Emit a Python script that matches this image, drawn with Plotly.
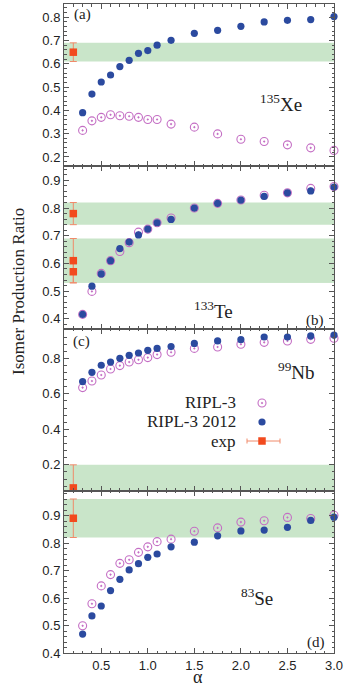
import plotly.graph_objects as go
from plotly.subplots import make_subplots

# ---------------- data ----------------
alpha = [0.3, 0.4, 0.5, 0.6, 0.7, 0.8, 0.9, 1.0, 1.1, 1.25, 1.5, 1.75, 2.0, 2.25, 2.5, 2.75, 3.0]

xe_ripl3 = [0.314, 0.355, 0.370, 0.381, 0.377, 0.375, 0.370, 0.361, 0.361, 0.341, 0.328, 0.299, 0.276, 0.266, 0.252, 0.239, 0.228]
xe_2012 = [0.390, 0.470, 0.522, 0.552, 0.588, 0.615, 0.645, 0.657, 0.680, 0.701, 0.731, 0.744, 0.761, 0.780, 0.787, 0.790, 0.803]

te_ripl3 = [0.416, 0.499, 0.564, 0.610, 0.643, 0.675, 0.713, 0.724, 0.747, 0.764, 0.800, 0.817, 0.829, 0.846, 0.855, 0.871, 0.878]
te_2012 = [0.416, 0.518, 0.562, 0.610, 0.654, 0.677, 0.703, 0.724, 0.747, 0.759, 0.800, 0.817, 0.829, 0.842, 0.855, 0.862, 0.876]

nb_ripl3 = [0.635, 0.672, 0.706, 0.740, 0.759, 0.779, 0.792, 0.804, 0.821, 0.834, 0.856, 0.864, 0.879, 0.890, 0.898, 0.907, 0.913]
nb_2012 = [0.669, 0.721, 0.761, 0.779, 0.800, 0.817, 0.830, 0.845, 0.856, 0.866, 0.884, 0.898, 0.905, 0.920, 0.920, 0.926, 0.931]

se_ripl3 = [0.499, 0.579, 0.644, 0.685, 0.726, 0.739, 0.766, 0.786, 0.805, 0.814, 0.843, 0.855, 0.876, 0.881, 0.893, 0.889, 0.901]
se_2012 = [0.469, 0.535, 0.571, 0.627, 0.668, 0.702, 0.725, 0.748, 0.760, 0.786, 0.803, 0.826, 0.844, 0.847, 0.857, 0.882, 0.894]

exp_alpha = 0.2
xe_exp, xe_err = [0.65], [0.04]
te_exp, te_err = [0.78, 0.61, 0.57], [0.04, 0.08, 0.04]
nb_exp, nb_err = [0.07], [0.13]
se_exp, se_err = [0.89], [0.07]

nuclides = ["<sup>135</sup>Xe", "<sup>133</sup>Te", "<sup>99</sup>Nb", "<sup>83</sup>Se"]
panel_tags = ["(a)", "(b)", "(c)", "(d)"]
series_names = ["RIPL-3", "RIPL-3 2012", "exp"]

y_ranges = [[0.16, 0.857], [0.365, 0.951], [0.054, 0.968], [0.4, 0.99]]
y_dticks = [0.1, 0.1, 0.2, 0.1]
y_minor = [0.02, 0.02, 0.04, 0.02]

# ---------------- style ----------------
BLUE = "#2b4a9f"
PINK = "#c46ec4"
RED = "#f24a1e"
ERR = "#f08a6a"
GREEN = "#c9e5c9"
AXC = "#555555"
TXT = "#222222"

W, H = 345, 689
ML, MR, MT, MB = 64, 11, 4, 36
PW, PH = W - ML - MR, H - MT - MB


def px(x):
    return (x - ML) / PW


def py(y):
    return 1 - (y - MT) / PH


fig = make_subplots(rows=4, cols=1, shared_xaxes=True, vertical_spacing=0)

panels = [
    (xe_ripl3, xe_2012, xe_exp, xe_err),
    (te_ripl3, te_2012, te_exp, te_err),
    (nb_ripl3, nb_2012, nb_exp, nb_err),
    (se_ripl3, se_2012, se_exp, se_err),
]

for i, (r3, r12, ex, er) in enumerate(panels):
    row = i + 1
    show = (i == 2)
    yref = "y" if row == 1 else f"y{row}"
    # green bands = exp +/- error
    for v, e in zip(ex, er):
        fig.add_shape(type="rect", xref=f"x{'' if row == 1 else row} domain", yref=yref,
                      x0=0, x1=1, y0=v - e, y1=v + e, fillcolor=GREEN,
                      line=dict(width=0), layer="below")
    fig.add_trace(go.Scatter(x=alpha, y=r3, mode="markers", name=series_names[0],
                             showlegend=show, legendrank=1, cliponaxis=False,
                             marker=dict(symbol="circle-open-dot", size=8, color=PINK,
                                         line=dict(width=1.1, color=PINK))),
                  row=row, col=1)
    fig.add_trace(go.Scatter(x=alpha, y=r12, mode="markers", name=series_names[1],
                             showlegend=show, legendrank=2, cliponaxis=False,
                             marker=dict(symbol="circle", size=7.2, color=BLUE)),
                  row=row, col=1)
    fig.add_trace(go.Scatter(x=[exp_alpha] * len(ex), y=ex, mode="markers", name=series_names[2],
                             showlegend=show, legendrank=3, cliponaxis=False,
                             error_y=dict(type="data", array=er, color=ERR, thickness=1, width=3.5),
                             marker=dict(symbol="square", size=7.5, color=RED)),
                  row=row, col=1)

    fig.update_yaxes(row=row, col=1, range=y_ranges[i], dtick=y_dticks[i], tick0=0,
                     ticks="inside", ticklen=5, tickcolor=AXC, mirror="allticks",
                     showline=True, linecolor=AXC, linewidth=1, showgrid=False,
                     zeroline=False, tickformat=".1f",
                     tickfont=dict(family="Liberation Sans", size=13, color=TXT),
                     minor=dict(dtick=y_minor[i], tick0=0, ticks="inside", ticklen=2.5,
                                tickcolor=AXC, showgrid=False))
    fig.update_xaxes(row=row, col=1, range=[0.1, 3.0], dtick=0.5, tick0=0,
                     ticks="inside", ticklen=5, tickcolor=AXC, mirror="allticks",
                     showline=True, linecolor=AXC, linewidth=1, showgrid=False,
                     zeroline=False, tickformat=".1f", showticklabels=(row == 4),
                     tickfont=dict(family="Liberation Sans", size=13, color=TXT),
                     minor=dict(dtick=0.1, tick0=0, ticks="inside", ticklen=2.5,
                                tickcolor=AXC, showgrid=False))

serif = "Liberation Serif"
annos = []
# nuclide labels
for txt, (x, y) in zip(nuclides, [(281, 103), (213, 310), (296, 371), (257, 597)]):
    annos.append(dict(text=txt, x=px(x), y=py(y), xref="paper", yref="paper",
                      showarrow=False, xanchor="center", yanchor="middle",
                      font=dict(family=serif, size=19, color=TXT)))
# panel tags
for txt, (x, y) in zip(panel_tags, [(82, 15), (315, 320), (81, 341), (316, 642)]):
    annos.append(dict(text=txt, x=px(x), y=py(y), xref="paper", yref="paper",
                      showarrow=False, xanchor="center", yanchor="middle",
                      font=dict(family=serif, size=15, color=TXT)))
# legend texts (right aligned, symbol drawn by the legend to the right)
for txt, y in zip(series_names, [402.7, 421.7, 441.0]):
    annos.append(dict(text=txt, x=px(238), y=py(y), xref="paper", yref="paper",
                      showarrow=False, xanchor="right", yanchor="middle",
                      font=dict(family=serif, size=17, color=TXT)))
# axis titles
annos.append(dict(text="Isomer Production Ratio", x=px(18), y=py(292), xref="paper", yref="paper",
                  showarrow=False, textangle=-90, xanchor="center", yanchor="middle",
                  font=dict(family=serif, size=17, color=TXT)))
annos.append(dict(text="α", x=px(198), y=py(689), xref="paper", yref="paper",
                  showarrow=False, xanchor="center", yanchor="bottom",
                  font=dict(family=serif, size=18, color=TXT)))

# legend key error bar for "exp"
fig.add_shape(type="line", xref="paper", yref="paper", x0=px(247), x1=px(280),
              y0=py(441), y1=py(441), line=dict(color=ERR, width=1))
for xx in (247, 280):
    fig.add_shape(type="line", xref="paper", yref="paper", x0=px(xx), x1=px(xx),
                  y0=py(438.5), y1=py(443.5), line=dict(color=ERR, width=1))

fig.update_layout(
    width=W, height=H,
    margin=dict(l=ML, r=MR, t=MT, b=MB, autoexpand=False),
    paper_bgcolor="white", plot_bgcolor="white",
    annotations=annos,
    showlegend=True,
    legend=dict(x=px(242), y=py(388.5), xanchor="left", yanchor="top",
                bgcolor="rgba(0,0,0,0)", font=dict(size=6, color="rgba(0,0,0,0)"),
                tracegroupgap=0, itemwidth=30),
)

fig.write_html("out.html")
